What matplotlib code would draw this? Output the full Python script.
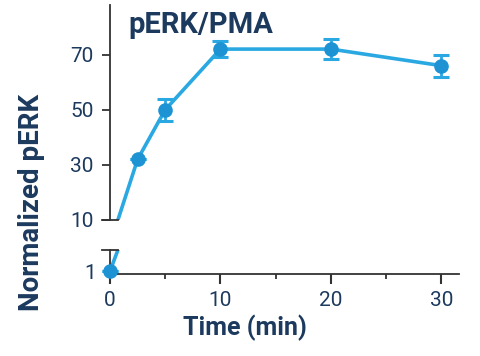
import matplotlib
matplotlib.use("Agg")
import matplotlib.pyplot as plt
import numpy as np

time_min = [0, 2.5, 5, 10, 20, 30]
perk = [1.2, 32, 50, 72, 72, 66]
perk_err = [0, 0, 4, 3, 3.5, 4]
x_ticks = [0, 10, 20, 30]
x_minor = [5, 15, 25]
top_yticks = [10, 30, 50, 70]
bottom_yticks = [1]

line_c = "#2aa8e2"
mark_c = "#1d93d4"
text_c = "#1c3a5e"
axis_c = "#333333"

plt.rcParams['font.family'] = ['Roboto', 'DejaVu Sans']

fig = plt.figure(figsize=(4.8, 3.56), dpi=100)
L, R = 110/480, 459/480
ax_top = fig.add_axes([L, 1-220/356, R-L, (220-5)/356])
ax_bot = fig.add_axes([L, 1-274/356, R-L, (274-250)/356])
ax_top.set_ylim(10, 88)
ax_bot.set_ylim(0, 10)

t = np.array(time_min)
v = np.array(perk)
e = np.array(perk_err)
for ax in (ax_top, ax_bot):
    lo, hi = ax.get_ylim()
    ax.plot(t, v, color=line_c, lw=2.6, zorder=2)
    m = (v >= lo) & (v <= hi)
    ax.errorbar(t[m], v[m], yerr=e[m], fmt='o', color=mark_c, ms=9.5,
                ecolor=line_c, elinewidth=2, capsize=5.5, capthick=2.2,
                zorder=3, clip_on=False)
    ax.set_xlim(0, 31.6)
    for s in ('top', 'right'):
        ax.spines[s].set_visible(False)
    ax.spines['left'].set_color(axis_c)
    ax.spines['left'].set_linewidth(1.3)
    ax.tick_params(axis='y', colors=axis_c, labelcolor=text_c, labelsize=15,
                   length=6, width=1.3, pad=6)

ax_top.set_yticks(top_yticks)
ax_top.spines['bottom'].set_visible(False)
ax_top.tick_params(axis='x', bottom=False, labelbottom=False)

ax_bot.set_yticks(bottom_yticks)
ax_bot.spines['bottom'].set_color(axis_c)
ax_bot.spines['bottom'].set_linewidth(1.3)
ax_bot.set_xticks(x_ticks)
ax_bot.set_xticks(x_minor, minor=True)
ax_bot.tick_params(axis='x', which='major', colors=axis_c, labelcolor=text_c,
                   labelsize=15, length=7, width=1.5, pad=5)
ax_bot.tick_params(axis='x', which='minor', colors=axis_c, length=3.5, width=1.3)
ax_bot.tick_params(axis='y', length=0, pad=10)

# caps on the broken axis
for ax, yv in ((ax_top, 0), (ax_bot, 1)):
    ax.plot([-0.022, 0.022], [yv, yv], transform=ax.transAxes, color=axis_c,
            lw=1.3, clip_on=False, zorder=5)

fig.text(128/480, 1-33/356, "pERK/PMA", fontsize=21, fontweight='bold',
         color=text_c, va='baseline', ha='left')
fig.text(32/480, 1-202/356, "Normalized pERK", rotation=90, fontsize=20,
         fontweight='bold', color=text_c, ha='center', va='center')
fig.text(245/480, 1-328/356, "Time (min)", fontsize=18, fontweight='bold',
         color=text_c, ha='center', va='center')

fig.savefig("out.png", dpi=100)
